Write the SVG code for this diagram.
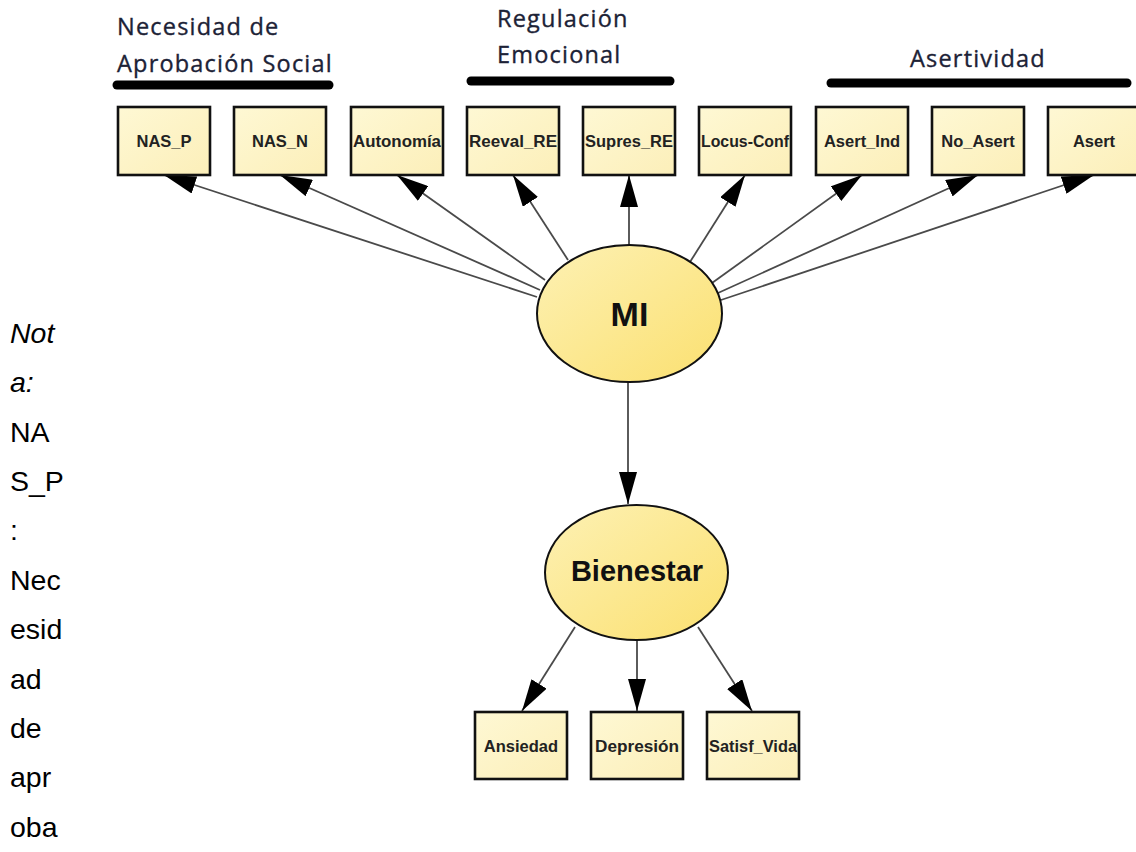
<svg xmlns="http://www.w3.org/2000/svg" width="1136" height="852" viewBox="0 0 1136 852">
  <defs>
    <linearGradient id="boxFill" x1="0" y1="0" x2="1" y2="1">
      <stop offset="0" stop-color="#fef8d4"/>
      <stop offset="1" stop-color="#fcefb9"/>
    </linearGradient>
    <linearGradient id="latentFill" x1="0" y1="0" x2="1" y2="1">
      <stop offset="0" stop-color="#fdf1b4"/>
      <stop offset="1" stop-color="#fbe070"/>
    </linearGradient>
    <marker id="arrow" markerUnits="userSpaceOnUse" markerWidth="32" markerHeight="18" refX="32" refY="9" orient="auto">
      <path d="M0,0 L32,9 L0,18 Z" fill="#000"/>
    </marker>
    <style>
      .box { fill: url(#boxFill); stroke: #111; stroke-width: 2.6; }
      .latent { fill: url(#latentFill); stroke: #111; stroke-width: 2; }
      .obs { font-family: "Liberation Sans", Arial, sans-serif; font-weight: bold; font-size: 16.5px; fill: #222; text-anchor: middle; }
      .lat { font-family: "Liberation Sans", Arial, sans-serif; font-weight: bold; fill: #111; text-anchor: middle; }
      .head { font-family: "Open Sans", "Noto Sans", sans-serif; font-size: 23.5px; letter-spacing: 1.2px; fill: #1c2236; stroke: #1c2236; stroke-width: 0.35; }
      .bar { stroke: #000; stroke-width: 9; stroke-linecap: round; }
      .edge { stroke: #4a4a4a; stroke-width: 1.8; fill: none; marker-end: url(#arrow); }
      .note { font-family: "Liberation Sans", Arial, sans-serif; font-size: 28.5px; fill: #000; }
    </style>
  </defs>

  <rect width="1136" height="852" fill="#fff"/>

  <!-- construct headings with their underline bars -->
  <g id="heading-nas">
    <text class="head" x="117" y="35">Necesidad de</text>
    <text class="head" x="117" y="72">Aprobación Social</text>
    <line class="bar" x1="117" y1="85" x2="329" y2="85"/>
  </g>
  <g id="heading-re">
    <text class="head" x="497" y="27">Regulación</text>
    <text class="head" x="497" y="63">Emocional</text>
    <line class="bar" x1="471" y1="81" x2="670" y2="81"/>
  </g>
  <g id="heading-asert">
    <text class="head" x="910" y="67">Asertividad</text>
    <line class="bar" x1="831" y1="83" x2="1127" y2="83"/>
  </g>

  <!-- connectors -->
  <g id="connectors">
    <line class="edge" x1="537" y1="297" x2="164" y2="175"/>
    <line class="edge" x1="540" y1="290" x2="280" y2="175"/>
    <line class="edge" x1="545" y1="280" x2="397" y2="175"/>
    <line class="edge" x1="568" y1="260" x2="513" y2="175"/>
    <line class="edge" x1="629" y1="246" x2="629" y2="175"/>
    <line class="edge" x1="690" y1="262" x2="745" y2="175"/>
    <line class="edge" x1="712" y1="283" x2="862" y2="175"/>
    <line class="edge" x1="718" y1="293" x2="978" y2="175"/>
    <line class="edge" x1="721" y1="300" x2="1094" y2="175"/>
    <line class="edge" x1="628" y1="382" x2="628" y2="504"/>
    <line class="edge" x1="575" y1="627" x2="522" y2="711"/>
    <line class="edge" x1="637" y1="641" x2="637" y2="711"/>
    <line class="edge" x1="698" y1="627" x2="752" y2="711"/>
  </g>

  <!-- observed indicators of MI -->
  <g id="NAS_P"><rect class="box" x="118" y="107" width="92" height="68"/><text class="obs" x="164" y="147">NAS_P</text></g>
  <g id="NAS_N"><rect class="box" x="234" y="107" width="92" height="68"/><text class="obs" x="280" y="147">NAS_N</text></g>
  <g id="Autonomia"><rect class="box" x="351" y="107" width="92" height="68"/><text class="obs" x="397" y="147" textLength="88" lengthAdjust="spacingAndGlyphs">Autonomía</text></g>
  <g id="Reeval_RE"><rect class="box" x="467" y="107" width="92" height="68"/><text class="obs" x="513" y="147" textLength="88" lengthAdjust="spacingAndGlyphs">Reeval_RE</text></g>
  <g id="Supres_RE"><rect class="box" x="583" y="107" width="92" height="68"/><text class="obs" x="629" y="147" textLength="88" lengthAdjust="spacingAndGlyphs">Supres_RE</text></g>
  <g id="Locus-Conf"><rect class="box" x="699" y="107" width="92" height="68"/><text class="obs" x="745" y="147" textLength="88" lengthAdjust="spacingAndGlyphs">Locus-Conf</text></g>
  <g id="Asert_Ind"><rect class="box" x="816" y="107" width="92" height="68"/><text class="obs" x="862" y="147">Asert_Ind</text></g>
  <g id="No_Asert"><rect class="box" x="932" y="107" width="92" height="68"/><text class="obs" x="978" y="147">No_Asert</text></g>
  <g id="Asert"><rect class="box" x="1048" y="107" width="92" height="68"/><text class="obs" x="1094" y="147">Asert</text></g>

  <!-- latent variables -->
  <g id="MI">
    <ellipse class="latent" cx="629.5" cy="313.5" rx="92.5" ry="68.5"/>
    <text class="lat" x="629.5" y="326" font-size="34">MI</text>
  </g>
  <g id="Bienestar">
    <ellipse class="latent" cx="636.5" cy="572.5" rx="91.5" ry="67.5"/>
    <text class="lat" x="637" y="581" font-size="29">Bienestar</text>
  </g>

  <!-- observed indicators of Bienestar -->
  <g id="Ansiedad"><rect class="box" x="475" y="712" width="92" height="67"/><text class="obs" x="521" y="752">Ansiedad</text></g>
  <g id="Depresion"><rect class="box" x="591" y="712" width="92" height="67"/><text class="obs" x="637" y="752" textLength="84" lengthAdjust="spacingAndGlyphs">Depresión</text></g>
  <g id="Satisf_Vida"><rect class="box" x="707" y="712" width="92" height="67"/><text class="obs" x="753" y="752" textLength="88" lengthAdjust="spacingAndGlyphs">Satisf_Vida</text></g>

  <!-- note column -->
  <g id="note">
    <text class="note" x="10" y="343" font-style="italic">Not</text>
    <text class="note" x="10" y="392" font-style="italic">a:</text>
    <text class="note" x="10" y="442">NA</text>
    <text class="note" x="10" y="491">S_P</text>
    <text class="note" x="10" y="540">:</text>
    <text class="note" x="10" y="590">Nec</text>
    <text class="note" x="10" y="639">esid</text>
    <text class="note" x="10" y="689">ad</text>
    <text class="note" x="10" y="738">de</text>
    <text class="note" x="10" y="787">apr</text>
    <text class="note" x="10" y="837">oba</text>
  </g>
</svg>
